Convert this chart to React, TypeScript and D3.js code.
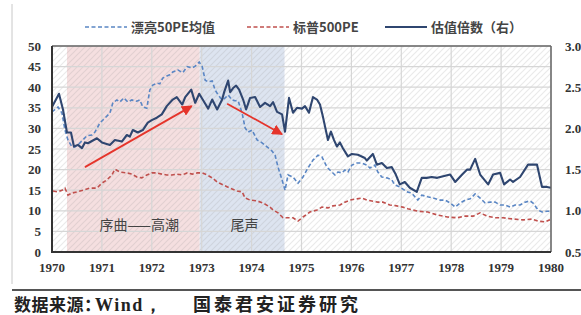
import React from "react";
import * as d3 from "d3";

// 估值倍数（右） navy solid, right axis
const navyYears = [1970.00,1970.14,1970.22,1970.30,1970.38,1970.44,1970.52,1970.60,1970.66,1970.72,1970.90,1971.00,1971.16,1971.26,1971.40,1971.50,1971.56,1971.62,1971.72,1971.82,1971.92,1972.00,1972.10,1972.20,1972.30,1972.42,1972.50,1972.61,1972.67,1972.79,1972.87,1972.95,1973.05,1973.13,1973.21,1973.31,1973.41,1973.45,1973.53,1973.57,1973.63,1973.69,1973.75,1973.83,1973.89,1973.97,1974.07,1974.17,1974.27,1974.37,1974.43,1974.51,1974.61,1974.67,1974.75,1974.83,1974.91,1975.01,1975.07,1975.15,1975.23,1975.31,1975.37,1975.43,1975.53,1975.59,1975.65,1975.71,1975.77,1975.83,1975.93,1976.01,1976.13,1976.27,1976.31,1976.43,1976.51,1976.61,1976.71,1976.81,1976.89,1976.97,1977.07,1977.17,1977.31,1977.41,1977.51,1977.61,1977.72,1977.84,1977.98,1978.08,1978.22,1978.32,1978.38,1978.48,1978.58,1978.74,1978.84,1978.98,1979.06,1979.18,1979.24,1979.38,1979.54,1979.72,1979.82,1979.92,1980.00];
const navyValues = [2.26,2.42,2.23,1.95,1.95,1.78,1.80,1.76,1.83,1.82,1.88,1.83,1.80,1.86,1.84,1.92,1.90,1.98,1.95,1.98,2.07,2.10,2.13,2.17,2.27,2.35,2.38,2.29,2.38,2.47,2.31,2.42,2.32,2.24,2.35,2.23,2.35,2.44,2.58,2.44,2.49,2.52,2.47,2.35,2.23,2.37,2.38,2.26,2.31,2.27,2.32,2.20,2.17,1.96,2.37,2.19,2.25,2.24,2.27,2.19,2.38,2.35,2.29,2.14,1.86,1.96,1.86,1.78,1.83,1.76,1.66,1.69,1.68,1.64,1.61,1.69,1.56,1.58,1.52,1.53,1.44,1.32,1.35,1.28,1.23,1.40,1.40,1.41,1.40,1.42,1.44,1.35,1.44,1.50,1.50,1.63,1.44,1.32,1.44,1.46,1.32,1.38,1.35,1.41,1.56,1.56,1.29,1.29,1.28];

// 漂亮50PE均值 blue dashed, left axis
const niftyYears = [1970.00,1970.12,1970.20,1970.26,1970.32,1970.40,1970.46,1970.56,1970.62,1970.70,1970.80,1970.86,1970.96,1971.06,1971.16,1971.22,1971.30,1971.36,1971.44,1971.52,1971.60,1971.70,1971.76,1971.82,1971.90,1971.96,1972.02,1972.10,1972.16,1972.22,1972.30,1972.36,1972.42,1972.52,1972.62,1972.71,1972.81,1972.87,1972.95,1973.01,1973.07,1973.13,1973.21,1973.27,1973.33,1973.41,1973.47,1973.53,1973.61,1973.67,1973.73,1973.81,1973.87,1973.93,1974.01,1974.11,1974.21,1974.31,1974.41,1974.47,1974.53,1974.61,1974.67,1974.73,1974.83,1974.93,1975.03,1975.13,1975.23,1975.33,1975.41,1975.51,1975.61,1975.67,1975.73,1975.81,1975.87,1975.93,1976.01,1976.11,1976.21,1976.31,1976.37,1976.47,1976.53,1976.61,1976.71,1976.81,1976.87,1976.97,1977.11,1977.21,1977.33,1977.41,1977.53,1977.64,1977.78,1977.88,1977.98,1978.08,1978.18,1978.28,1978.38,1978.48,1978.58,1978.68,1978.78,1978.88,1978.98,1979.08,1979.18,1979.28,1979.38,1979.48,1979.58,1979.64,1979.74,1979.82,1979.92,1980.00];
const niftyValues = [34,35.2,33.7,29.6,27.2,25.5,25.5,26.5,27.2,28.2,28.4,29.1,31.3,32.5,33.7,36.2,36.9,36.4,37.4,36.4,36.9,36.6,36.9,35.2,34.9,39.3,40.5,41,40.8,42.2,42.7,43,43.7,44.2,43.5,45,44.7,45.1,46.1,45,41.7,41.3,41.5,39.3,38.1,36.9,37.4,38.1,36.9,36.7,36.7,33.7,30.1,29.1,29.6,27.2,26.5,25.5,24.5,23.5,20.6,17.5,15,18.7,18.2,16.7,18.2,20.4,22.3,23.5,23.1,20.6,19.4,18.7,19.4,19.2,19.9,19.4,21.1,21.6,21.6,21.1,20.4,21.1,19.4,18.2,18,17.5,16.3,15.8,14.6,14.3,12.6,13.8,13.4,13.1,12.6,12.6,11.9,10.9,11.9,12.6,12.9,14.1,13.1,11.9,12.1,12.1,11.4,11.4,10.9,11.4,11.4,12.1,12.4,11.9,10.2,9.7,9.9,9.9];

// 标普500PE red dashed, left axis
const spYears = [1970.02,1970.12,1970.20,1970.26,1970.32,1970.40,1970.50,1970.62,1970.76,1970.90,1971.00,1971.10,1971.20,1971.26,1971.36,1971.50,1971.60,1971.70,1971.80,1971.90,1972.00,1972.10,1972.20,1972.30,1972.40,1972.50,1972.61,1972.71,1972.81,1972.91,1973.01,1973.11,1973.21,1973.31,1973.43,1973.57,1973.71,1973.81,1973.87,1973.97,1974.11,1974.23,1974.37,1974.43,1974.53,1974.63,1974.73,1974.83,1974.93,1975.03,1975.17,1975.31,1975.41,1975.53,1975.63,1975.77,1975.87,1975.97,1976.11,1976.21,1976.31,1976.41,1976.53,1976.63,1976.77,1976.91,1977.03,1977.13,1977.33,1977.53,1977.72,1977.92,1978.12,1978.28,1978.44,1978.58,1978.72,1978.88,1979.04,1979.24,1979.44,1979.62,1979.74,1979.88,1979.98];
const spValues = [14.8,14.6,15,15.5,13.8,14.3,14.6,15,15.5,15.5,16.7,17.5,18.7,20.1,19.4,19.2,18.9,18.2,18,18.7,19.2,19.2,18.9,18.7,18.7,18.9,18.7,19.2,18.9,19.2,19.2,18.7,18,17,16.3,15.5,14.8,14.6,13.1,12.6,12.4,11.9,10.9,10.2,9.5,8.3,8.3,8.3,7.5,8.5,9.7,10.2,10.9,10.7,11.2,11.4,12.1,12.6,12.9,13.1,12.6,12.4,12.1,12.1,11.4,11.2,10.9,10.5,9.9,9.7,9,8.5,8.3,8.7,8.7,9.5,8.7,8.3,8.3,8,7.8,8,7.5,7.3,7.8];

const xTicks = [1970,1971,1972,1973,1974,1975,1976,1977,1978,1979,1980];
const leftTicks = [0,5,10,15,20,25,30,35,40,45,50];
const rightTicks = ["0.5","1.0","1.5","2.0","2.5","3.0"];

// phases
const phaseStarts = [1970.3, 1972.96];
const phaseEnds = [1972.96, 1974.66];
const phaseLabels = ["序曲——高潮", "尾声"];
const phaseLabelAt = [1971.75, 1973.86];

// arrows in left-axis units
const arrowStarts = [[1970.66, 20.6], [1973.51, 36.0]];
const arrowEnds = [[1972.80, 35.4], [1974.61, 28.6]];

const legendLabels = ["漂亮50PE均值", "标普500PE", "估值倍数（右）"];
const footerParts = ["数据来源：", "Wind，", "国泰君安证券研究"];

export default function App() {
  const W = 581, H = 315;
  const left = 52, right = 551, top = 46, bottom = 252;
  const x = d3.scaleLinear().domain([1970, 1980]).range([left, right]);
  const yL = d3.scaleLinear().domain([0, 50]).range([bottom, top]);
  const yR = d3.scaleLinear().domain([0.5, 3.0]).range([bottom, top]);

  const lineL = d3.line<[number, number]>().x(d => x(d[0])).y(d => yL(d[1]));
  const lineR = d3.line<[number, number]>().x(d => x(d[0])).y(d => yR(d[1]));

  const navy = navyYears.map((t, i) => [t, navyValues[i]] as [number, number]);
  const nifty = niftyYears.map((t, i) => [t, niftyValues[i]] as [number, number]);
  const sp = spYears.map((t, i) => [t, spValues[i]] as [number, number]);

  const navyC = "#2f4670";
  const blueC = "#5a86c4";
  const redC = "#c0504d";
  const arrowC = "#e5342b";
  const tickFont = "'Liberation Serif', 'DejaVu Serif', serif";
  const cjk = "'Noto Sans CJK SC', sans-serif";

  const legendX = [85, 247, 385];
  const legendStyles = [
    { c: blueC, dash: "4,2.5", w: 1.6 },
    { c: redC, dash: "4,2.5", w: 1.6 },
    { c: navyC, dash: "", w: 2 },
  ];

  const footerX = [14, 95, 193];
  const footerFont = [cjk, tickFont, cjk];
  const footerSpacing = [0.5, 1.5, 3];
  const footerSize = [17, 18, 18];

  return (
    <svg width={W} height={H} style={{ position: "absolute", left: 0, top: 0, background: "#fff" }}>
      <defs>
        <pattern id="hatch" patternUnits="userSpaceOnUse" width="6" height="6">
          <path d="M-1,1 l2,-2 M0,6 l6,-6 M5,7 l2,-2" stroke="rgba(150,150,150,0.2)" strokeWidth="1.2" />
        </pattern>
        <marker id="ah" viewBox="0 0 10 10" refX="9" refY="5" markerWidth="6" markerHeight="6" orient="auto">
          <path d="M0,0 L10,5 L0,10 z" fill={arrowC} />
        </marker>
        <clipPath id="plot">
          <rect x={left} y={top} width={right - left} height={bottom - top} />
        </clipPath>
      </defs>

      <line x1={12} y1={4} x2={12} y2={284} stroke="#c8c8c8" strokeWidth={1} />

      {phaseStarts.map((s, i) => (
        <rect key={"ph" + i} x={x(s)} y={top} width={x(phaseEnds[i]) - x(s)} height={bottom - top}
          fill={i === 0 ? "#f5dfe0" : "#dde4f0"} />
      ))}
      <rect x={left} y={top} width={right - left} height={bottom - top} fill="url(#hatch)" />

      {leftTicks.map(v => (
        <line key={"h" + v} x1={left} x2={right} y1={yL(v)} y2={yL(v)} stroke="#d6d6d6" strokeWidth={1.2} />
      ))}
      {xTicks.map(t => (
        <line key={"v" + t} x1={x(t)} x2={x(t)} y1={top} y2={bottom} stroke="#d6d6d6" strokeWidth={1.2} />
      ))}

      {phaseLabels.map((l, i) => (
        <text key={"pl" + i} x={x(phaseLabelAt[i])} y={yL(5.3)} textAnchor="middle"
          fontFamily={cjk} fontSize={14} fill="#444">{l}</text>
      ))}

      <g clipPath="url(#plot)">
        <path d={lineL(sp) || ""} fill="none" stroke={redC} strokeWidth={1.6} strokeDasharray="4,2.5" />
        <path d={lineL(nifty) || ""} fill="none" stroke={blueC} strokeWidth={1.6} strokeDasharray="4,2.5" />
        <path d={lineR(navy) || ""} fill="none" stroke={navyC} strokeWidth={2.1} strokeLinejoin="round" />
      </g>

      {arrowStarts.map((s, i) => (
        <line key={"ar" + i} x1={x(s[0])} y1={yL(s[1])} x2={x(arrowEnds[i][0])} y2={yL(arrowEnds[i][1])}
          stroke={arrowC} strokeWidth={1.8} markerEnd="url(#ah)" />
      ))}

      <line x1={left} x2={right} y1={top} y2={top} stroke="#666" strokeWidth={1.5} />
      <line x1={right} x2={right} y1={top} y2={bottom} stroke="#666" strokeWidth={1.5} />
      <line x1={left} x2={left} y1={top} y2={bottom + 1} stroke="#333" strokeWidth={2} />
      <line x1={left - 1} x2={right} y1={bottom} y2={bottom} stroke="#333" strokeWidth={2} />

      {leftTicks.map(v => (
        <text key={"lt" + v} x={41} y={yL(v) + 4.5} textAnchor="end" fontFamily={tickFont}
          fontWeight="bold" fontSize={13} fill="#333">{v}</text>
      ))}
      {rightTicks.map(v => (
        <text key={"rt" + v} x={565} y={yR(+v) + 4.5} textAnchor="start" fontFamily={tickFont}
          fontWeight="bold" fontSize={13} fill="#333">{v}</text>
      ))}
      {xTicks.map(t => (
        <text key={"xt" + t} x={x(t)} y={272} textAnchor="middle" fontFamily={tickFont}
          fontWeight="bold" fontSize={13} fill="#333">{t}</text>
      ))}

      {legendLabels.map((l, i) => (
        <g key={"lg" + i}>
          <line x1={legendX[i]} x2={legendX[i] + 42} y1={27} y2={27} stroke={legendStyles[i].c}
            strokeWidth={legendStyles[i].w} strokeDasharray={legendStyles[i].dash} />
          <text x={legendX[i] + 46} y={31.5} fontFamily={cjk} fontWeight={600} fontSize={13} fill="#444">{l}</text>
        </g>
      ))}

      <line x1={12} x2={581} y1={290} y2={290} stroke="#555" strokeWidth={2} />
      {footerParts.map((p, i) => (
        <text key={"ft" + i} x={footerX[i]} y={311} fontFamily={footerFont[i]} fontWeight="bold"
          fontSize={footerSize[i]} letterSpacing={footerSpacing[i]} fill="#222">{p}</text>
      ))}
    </svg>
  );
}
